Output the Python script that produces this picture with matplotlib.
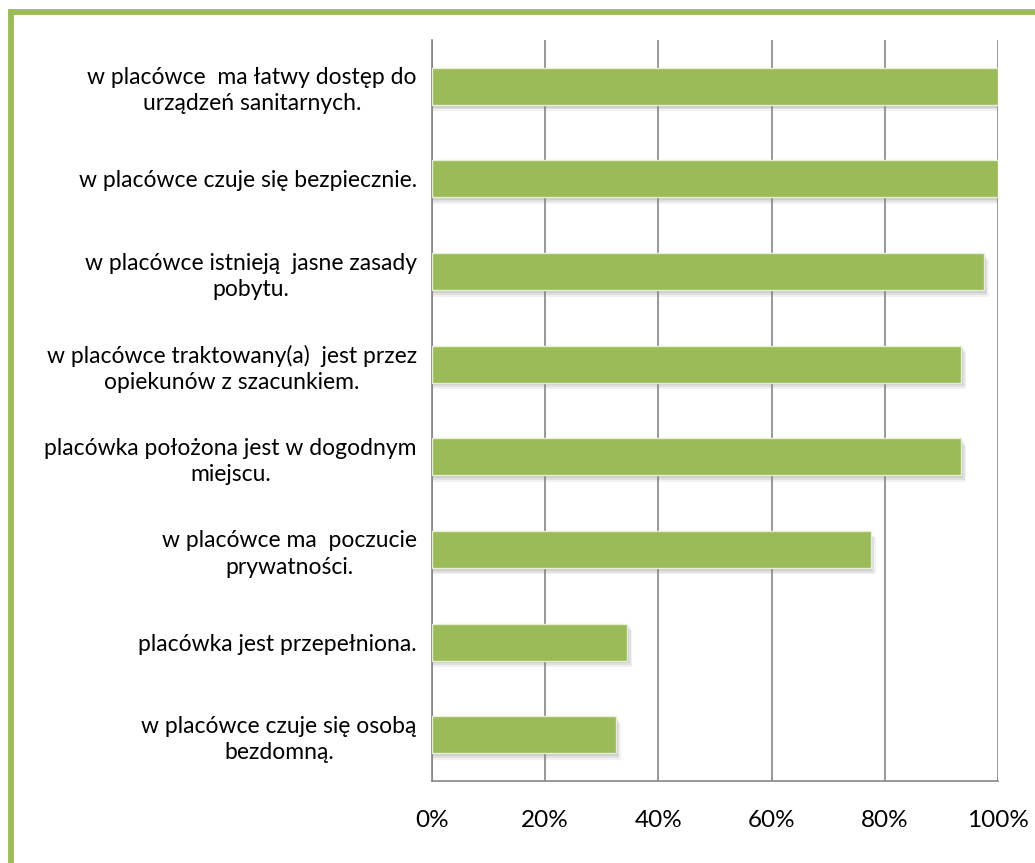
import matplotlib
matplotlib.use("Agg")
import matplotlib.pyplot as plt
from matplotlib.lines import Line2D
from matplotlib.ticker import FuncFormatter

categories = [
    "w placówce  ma łatwy dostęp do\nurządzeń sanitarnych.",
    "w placówce czuje się bezpiecznie.",
    "w placówce istnieją  jasne zasady\npobytu.",
    "w placówce traktowany(a)  jest przez\nopiekunów z szacunkiem.",
    "placówka położona jest w dogodnym\nmiejscu.",
    "w placówce ma  poczucie\nprywatności.",
    "placówka jest przepełniona.",
    "w placówce czuje się osobą\nbezdomną.",
]
values = [100, 100, 97.5, 93.5, 93.5, 77.5, 34.5, 32.5]
xticks = [0, 20, 40, 60, 80, 100]

GREEN = "#9BBB59"
GRID = "#868686"

plt.rcParams['font.family'] = ['Lato', 'DejaVu Sans']

W, H = 1035, 863
fig = plt.figure(figsize=(W / 100, H / 100), dpi=100)
fig.patch.set_facecolor("white")

ax = fig.add_axes([432 / W, 1 - 781 / H, (998 - 432) / W, (781 - 40) / H])
ypos = list(range(len(categories)))

# soft shadow
for dx, dy, a in [(0.9, 0.07, 0.10), (0.6, 0.05, 0.14), (0.3, 0.03, 0.18)]:
    ax.barh([y + dy for y in ypos], values, height=0.4,
            color="#7f7f7f", alpha=a, edgecolor="none", zorder=2)
    ax.barh([y + dy for y in ypos], [dx] * len(values), height=0.4,
            left=values, color="#7f7f7f", alpha=a, edgecolor="none", zorder=2)

ax.barh(ypos, values, height=0.4, color=GREEN, edgecolor="#e6eed6",
        linewidth=1.0, zorder=3)

ax.set_xlim(0, 100)
ax.set_ylim(len(categories) - 0.5, -0.5)
ax.set_xticks(xticks)
ax.xaxis.set_major_formatter(FuncFormatter(lambda v, p: f"{int(v)}%"))
ax.set_yticks(ypos)
ax.set_yticklabels(categories, multialignment="center", linespacing=1.3)
ax.tick_params(axis="y", length=0, labelsize=16.5, colors="#000000", pad=11)
ax.tick_params(axis="x", length=0, labelsize=17.5, colors="#000000", pad=21)

ax.grid(axis="x", color=GRID, linewidth=1.2, zorder=1)
ax.set_axisbelow(True)
for s in ["top", "right"]:
    ax.spines[s].set_visible(False)
for s in ["left", "bottom"]:
    ax.spines[s].set_color(GRID)
    ax.spines[s].set_linewidth(1.2)

# green frame (partially outside the image on right/bottom)
fig.add_artist(Line2D([10 / W, 1.0], [1 - 12 / H, 1 - 12 / H],
                      transform=fig.transFigure, color=GREEN, linewidth=4.2,
                      solid_capstyle="butt"))
fig.add_artist(Line2D([10.5 / W, 10.5 / W], [1 - 9.5 / H, 0.0],
                      transform=fig.transFigure, color=GREEN, linewidth=4.2,
                      solid_capstyle="butt"))

fig.savefig("out.png", dpi=100, facecolor="white")
